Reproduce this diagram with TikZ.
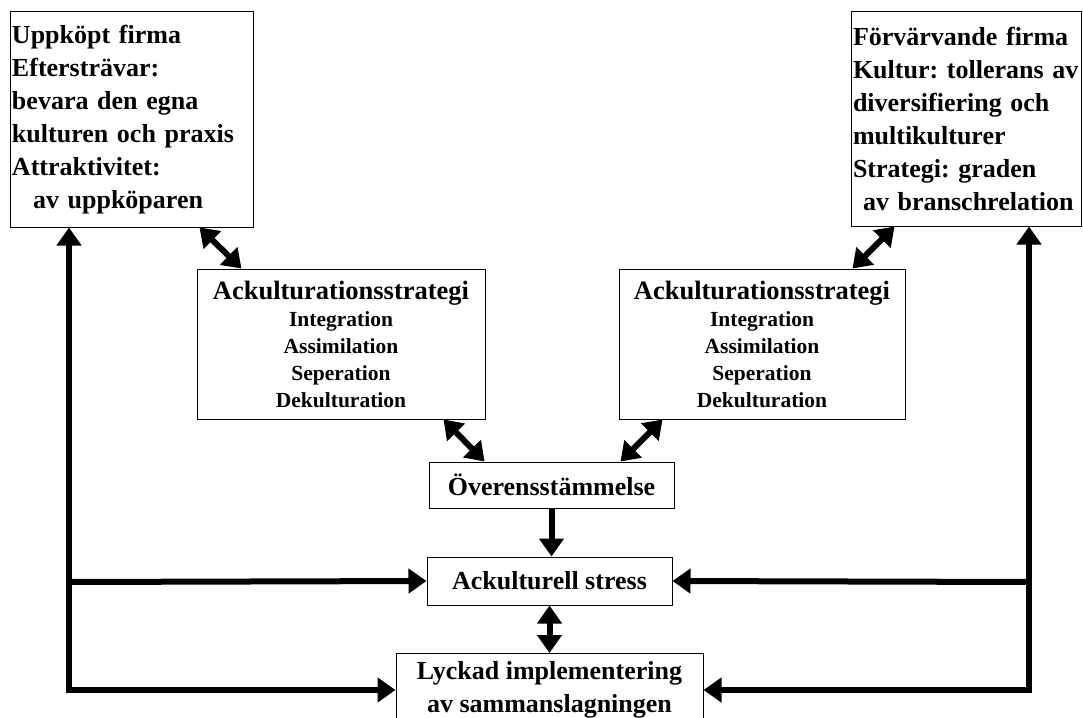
\documentclass[tikz,border=0pt]{standalone}
\usepackage{fontspec}
\setmainfont{Liberation Serif}
\usetikzlibrary{arrows.meta}
\frenchspacing

\begin{document}
\begin{tikzpicture}[x=1pt,y=-1pt,>={Triangle[length=18pt,width=24pt]},
 blk/.style={draw,line width=1pt,inner sep=2pt,font=\bfseries\fontsize{26}{33}\selectfont},
 firm/.style={blk,align=left,text width=#1},
 strat/.style={blk,align=center,minimum width=#1,minimum height=150pt,font=\bfseries\fontsize{21.5}{27}\selectfont},
 flow/.style={line width=6pt}]
 \useasboundingbox (0,0) rectangle (1083,717);

 \node[firm=239pt,minimum height=215pt] (U) at (131.5,119.5) {Uppköpt firma\\ Eftersträvar:\\ bevara den egna\\ kulturen och praxis\\ Attraktivitet:\\ \hspace*{21pt}av uppköparen};
 \node[firm=226pt,minimum height=214pt] (F) at (966,119) {Förvärvande firma\\ Kultur: tollerans av\\ diversifiering och\\ multikulturer\\ Strategi: graden\\ \hspace*{10pt}av branschrelation};

 \node[strat=288pt] (SL) at (341,344) {{\fontsize{26.5}{27}\selectfont Ackulturationsstrategi}\\ Integration\\ Assimilation\\ Seperation\\ Dekulturation};
 \node[strat=286pt] (SR) at (762,344) {{\fontsize{26.5}{27}\selectfont Ackulturationsstrategi}\\ Integration\\ Assimilation\\ Seperation\\ Dekulturation};

 \node[blk,minimum width=245pt,minimum height=46pt] (O) at (551.5,485) {Överensstämmelse};
 \node[blk,minimum width=245pt,minimum height=48pt] (S) at (549.5,581) {Ackulturell stress};
 \node[blk,align=center,minimum width=307pt,inner ysep=8pt,anchor=north] (L) at (549.5,653) {Lyckad implementering\\ av sammanslagningen};

 \coordinate (cl) at (69,582);
 \coordinate (bl) at (69,690);
 \coordinate (cr) at (1029,582);
 \coordinate (br) at (1029,690);

 % sidoflöden
 \draw[flow,<->] (U.south -| bl) -- (bl) -- (bl -| L.west);
 \draw[flow,->] (cl) -- (S.west);
 \draw[flow,<->] (F.south -| br) -- (br) -- (br -| L.east);
 \draw[flow,->] (cr) -- (S.east);

 \draw[flow,<->] ([xshift=-54pt]U.south east) -- ([xshift=45pt]SL.north west);
 \draw[flow,<->] ([xshift=44pt]F.south west) -- ([xshift=-53pt]SR.north east);
 \draw[flow,<->] ([xshift=-42pt]SL.south east) -- ([xshift=56pt]O.north west);
 \draw[flow,<->] ([xshift=44pt]SR.south west) -- ([xshift=-54pt]O.north east);

 \draw[flow,->] (O.south) -- (O.south |- S.north);
 \draw[flow,<->] (S.south) -- (S.south |- L.north);

\end{tikzpicture}
\end{document}
